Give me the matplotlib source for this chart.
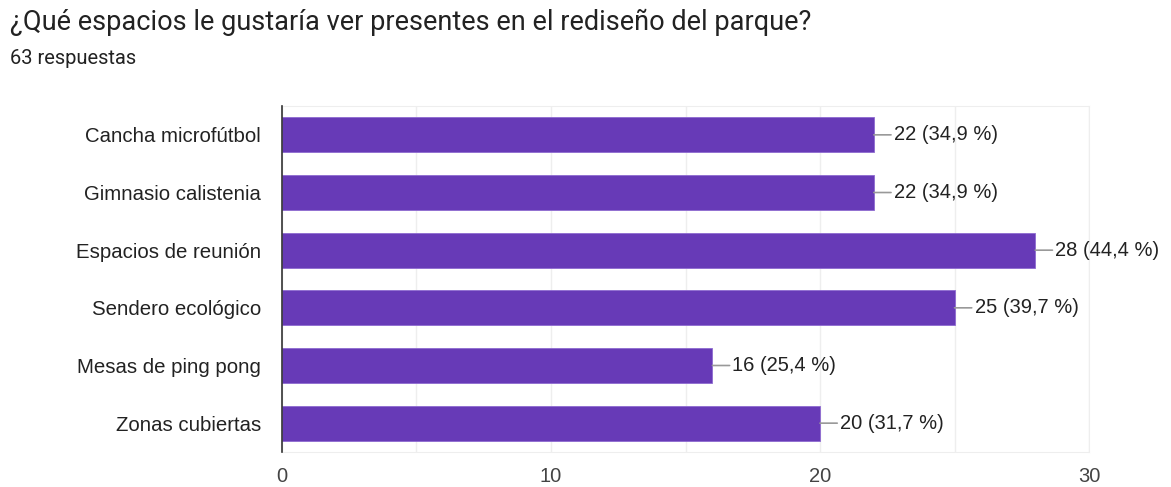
import numpy as np
import matplotlib
matplotlib.use('Agg')
import matplotlib.pyplot as plt

plt.rcParams['font.family'] = ['Liberation Sans', 'DejaVu Sans']

categorias = ['Cancha microfútbol', 'Gimnasio calistenia', 'Espacios de reunión',
              'Sendero ecológico', 'Mesas de ping pong', 'Zonas cubiertas']
valores = [22, 22, 28, 25, 16, 20]
porcentajes = ['34,9', '34,9', '44,4', '39,7', '25,4', '31,7']
ticks = [0, 10, 20, 30]

fig = plt.figure(figsize=(11.71, 4.87), dpi=100)
ax = fig.add_axes([0.2408, 0.0719, 0.6892, 0.7104])

ypos = np.arange(len(categorias))
ax.barh(ypos, valores, height=0.61, color='#673ab7', edgecolor='#8e6ad0', linewidth=0.6, zorder=3)

for i, v in enumerate(valores):
    ax.annotate("%d (%s %%)" % (v, porcentajes[i]), xy=(v, i), xytext=(20, 0),
                textcoords='offset pixels', va='center', ha='left', fontsize=14.5,
                color='#222222',
                arrowprops=dict(arrowstyle='-', color='#999999', lw=1.2,
                                shrinkA=0, shrinkB=0, relpos=(0, 0.5)))

ax.set_ylim(len(categorias) - 0.5, -0.5)
ax.set_xlim(0, 30)
ax.set_yticks(ypos)
ax.set_yticklabels(categorias, fontsize=14.7, color='#222222')
ax.set_xticks(ticks)
ax.set_xticklabels([str(t) for t in ticks], fontsize=14.5, color='#444444')
ax.set_xticks([5, 15, 25], minor=True)
ax.tick_params(axis='both', which='both', length=0)
ax.tick_params(axis='y', pad=15)
ax.tick_params(axis='x', pad=11)
ax.grid(axis='x', which='both', color='#eeeeee', lw=1, zorder=0)
for s in ['top', 'right', 'bottom']:
    ax.spines[s].set_visible(True)
    ax.spines[s].set_color('#eeeeee')
ax.spines['left'].set_color('#333333')
ax.spines['left'].set_linewidth(1.2)
ax.spines['left'].set_zorder(4)

fig.text(10/1171, 1 - 22/487, '¿Qué espacios le gustaría ver presentes en el rediseño del parque?',
         fontsize=19.5, color='#222222', va='center', ha='left', family=['Roboto', 'DejaVu Sans'])
fig.text(10/1171, 1 - 58/487, '63 respuestas', fontsize=14.5, color='#222222', va='center', ha='left',
         family=['Roboto', 'DejaVu Sans'])

plt.savefig('out.png', dpi=100)
